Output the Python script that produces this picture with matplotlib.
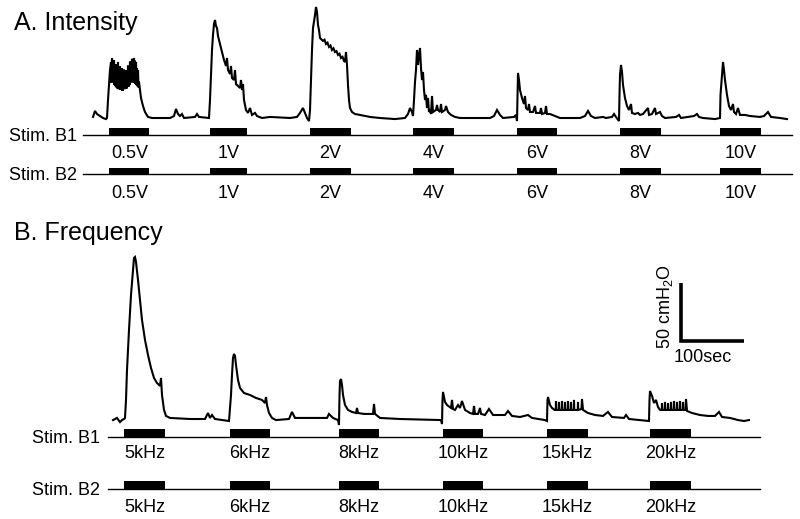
import numpy as np
import matplotlib
matplotlib.use("Agg")
import matplotlib.pyplot as plt

plt.rcParams['font.family'] = ['Liberation Sans', 'DejaVu Sans']

# bladder pressure traces: (time s, pressure cmH2O above baseline)
trace_A = [(16, 0.9), (19.2, 6.0), (22.4, 3.4), (27.2, 1.7), (32, 0), (36.8, -0.9), (38.4, 0),
           (40, 15.3), (41.6, 28.1), (43.2, 40.8), (44.8, 47.6), (45.6, 30.0), (46.4, 51), (47.2, 33.0),
           (48, 49.1), (48.8, 30.5), (49.6, 49.3), (50.4, 28.0), (51.2, 45.3), (52, 27.0), (52.8, 45.9),
           (53.6, 26.0), (54.4, 42.9), (55.2, 25.0), (56, 47.6), (56.8, 24.5), (57.6, 41.5), (58.4, 26.0),
           (59.2, 43.8), (60, 24.0), (60.8, 40.2), (61.6, 25.5), (62.4, 42.4), (63.2, 23.0), (64, 38.8),
           (64.8, 25.0), (65.6, 41.1), (66.4, 24.5), (67.2, 38.5), (68, 26.0), (68.8, 40.7), (69.6, 25.0),
           (70.4, 39.2), (71.2, 27.0), (72, 44.5), (72.8, 26.5), (73.6, 43.9), (74.4, 28.0), (75.2, 47.9),
           (76, 30.0), (76.8, 48.0), (77.6, 31.0), (78.4, 50.3), (79.2, 32.0), (80, 47.4), (80.8, 30.0),
           (81.6, 51), (82.4, 31.0), (83.2, 48.7), (84, 29.0), (84.8, 47.6), (85.6, 28.0), (86.4, 42.3),
           (87.2, 27.0), (88, 40.8), (88.8, 26.0), (89.6, 30.8), (92.8, 17), (96, 10.2), (99.2, 5.1),
           (104, 0.9), (110.4, 0), (139.2, 0), (145.6, 1.7), (148.8, 7.7), (152, 3.4), (155.2, 1.7),
           (158.4, 3.4), (161.6, 0), (179.2, 0.9), (182.4, 3.4), (185.6, 0.9), (201.6, 0),
           # 1V
           (203.2, 15.3), (204.8, 36.6), (206.4, 57.8), (208, 70.6), (209.6, 79.9), (211.2, 83.3),
           (212.8, 78.2), (214.4, 76.5), (216, 69.7), (219.2, 62.9), (222.4, 56.1), (225.6, 49.3),
           (228.8, 44.2), (230.4, 51), (232, 40.8), (235.2, 37.4), (236.8, 44.2), (238.4, 34),
           (241.6, 32.3), (243.2, 40.8), (244.8, 28.9), (248, 27.2), (251.2, 25.5), (252.8, 32.3),
           (254.4, 23.8), (256, 28.9), (257.6, 15.3), (260.8, 6.8), (264, 4.3), (267.2, 8.5),
           (270.4, 2.6), (275.2, 4.3), (278.4, 1.7), (286.4, 0), (299.2, 0.9), (331.2, 0),
           (342.4, 0.9), (347.2, 4.3), (352, 8.5), (355.2, 4.3), (358.4, 0), (361.6, -2.6),
           # 2V
           (363.2, 6.8), (364.8, 32.3), (366.4, 57.8), (368, 76.5), (371.2, 87.6), (372.8, 94.4),
           (374.4, 90.1), (376, 79), (377.6, 74.8), (379.2, 68), (384, 65.5), (386.4, 66.5),
           (388.8, 62.9), (391.2, 64.0), (393.6, 60.4), (396, 61.6), (398.4, 57.8), (400.8, 59.2),
           (403.2, 56.1), (405.6, 56.8), (408, 53.6), (410.4, 54.6), (412.8, 51), (415.2, 52.0),
           (417.6, 48.5), (419.2, 47.6), (420.8, 56.1), (422.4, 45.1), (424, 28.1), (425.6, 15.3),
           (427.2, 8.5), (430.4, 5.1), (435.2, 3.4), (443.2, 2.6), (459.2, 0.9), (475.2, 0),
           (499.2, -0.9), (515.2, 0), (520, 3.4), (523.2, 8.5), (526.4, 5.1), (528, 1.7),
           # 4V
           (529.6, 15.3), (531.2, 30.6), (532.8, 40.8), (534.4, 57.8), (536, 45.1), (537.6, 53.6),
           (539.2, 59.5), (540.8, 42.5), (542.4, 32.3), (544, 39.1), (545.6, 23.8), (547.2, 15.3),
           (548.8, 19.6), (550.4, 8.5), (552, 17), (553.6, 5.1), (555.2, 6.8), (556.8, 3.4),
           (558.4, 18.7), (560, 5.1), (564.8, 6.8), (566.4, 11.1), (568, 6.8), (571.2, 5.1),
           (572.8, 11.9), (574.4, 5.1), (579.2, 6.8), (580.8, 10.2), (584, 5.1), (588.8, 2.6),
           (595.2, 0.9), (603.2, 0), (651.2, 0), (657.6, 1.7), (662.4, 6.8), (667.2, 2.6), (672, 0),
           (689.6, 0.9), (692.8, 2.6), (694.4, -2.6),
           # 6V
           (695.2, 19.6), (696, 38.3), (697.6, 32.3), (699.2, 23.8), (702.4, 17), (705.6, 11.9),
           (707.2, 18.7), (708.8, 8.5), (712, 6.8), (713.6, 11.9), (715.2, 5.1), (720, 5.1),
           (723.2, 10.2), (724.8, 4.3), (731.2, 4.3), (732.8, 8.5), (734.4, 3.4), (739.2, 4.3),
           (740.8, 10.2), (742.4, 3.4), (747.2, 3.4), (755.2, 1.7), (763.2, 0), (795.2, 0),
           (803.2, 1.7), (808, 6.0), (812.8, 1.7), (819.2, 0), (832, 0.9), (836.8, 0), (846.4, 0.9),
           (849.6, 3.4), (852.8, 0.9), (857.6, -2.6),
           # 8V
           (858.4, 19.6), (859.2, 36.6), (860.8, 45.1), (862.4, 39.1), (864, 28.1), (867.2, 17),
           (870.4, 10.2), (873.6, 6.8), (876.8, 11.9), (878.4, 4.3), (883.2, 3.4), (888, 4.3),
           (891.2, 2.6), (896, 3.4), (904, 8.5), (905.6, 2.6), (910.4, 3.4), (915.2, 8.5),
           (916.8, 3.4), (923.2, 5.1), (926.4, 1.7), (931.2, 0), (948.8, 0.9), (953.6, 2.6),
           (956.8, 0), (977.6, 1.7), (982.4, 3.4), (985.6, 0.9), (992, 0), (1011.2, -0.9), (1019.2, 0),
           # 10V
           (1020, 19.6), (1022.4, 36.6), (1024, 47.6), (1025.6, 40.8), (1027.2, 32.3), (1030.4, 19.6),
           (1033.6, 10.2), (1036.8, 6.8), (1040, 11.9), (1041.6, 5.1), (1044.8, 3.4), (1048, 8.5),
           (1051.2, 2.6), (1059.2, 2.6), (1067.2, 1.7), (1083.2, 0.9), (1089.6, 1.7), (1096, 5.1),
           (1100.8, 0.9), (1115.2, 0), (1126.4, -0.9)]

trace_B = [(8, -0.9), (14.4, 0.9), (19.2, -2.6), (22.4, -0.9), (25.6, 0), (27.2, 0.9),
           # 5kHz
           (28.8, 16.2), (30.4, 41.7), (33.6, 75.7), (36.8, 105.4), (40, 126.7), (41.6, 136.9),
           (43.2, 137.7), (44.8, 133.5), (48, 118.2), (51.2, 101.2), (54.4, 84.2), (59.2, 67.2),
           (64, 54.4), (68.8, 43.4), (73.6, 34.9), (78.4, 30.6), (83.2, 28.1), (84.8, 34.9),
           (86.4, 20.4), (89.6, 7.7), (92.8, 2.6), (99.2, 0.9), (131.2, 0), (155.2, 0), (160, 5.1),
           (163.2, 0.9), (166.4, 3.4), (171.2, 0), (193.6, -1.7),
           # 6kHz
           (196.8, 20.4), (198.4, 37.4), (200, 51.9), (201.6, 55.3), (203.2, 53.6), (204.8, 45.9),
           (208, 33.2), (211.2, 26.4), (217.6, 22.1), (227.2, 20.4), (236.8, 17.9), (246.4, 16.2),
           (251.2, 13.6), (252.8, 18.7), (254.4, 11.9), (257.6, 5.1), (262.4, 0.9), (268.8, -0.9),
           (289.6, 0), (294.4, 6.0), (299.2, 0.9), (307.2, 0.9), (350.4, 0.9), (353.6, 4.3),
           (360, 0.9), (368, -0.9), (369.6, -5.1),
           # 8kHz
           (370.4, 19.6), (371.2, 32.3), (372.8, 34), (374.4, 28.9), (376, 20.4), (379.2, 11.9),
           (384, 7.7), (390.4, 6.0), (396.8, 5.1), (398.4, 9.4), (400, 5.1), (409.6, 4.3), (424, 4.3),
           (425.6, 12.8), (427.2, 4.3), (435.2, 0.9), (467.2, 0), (532.8, -0.9), (534.4, -4.3),
           # 10kHz
           (535.2, 16.2), (536, 23), (539.2, 14.5), (542.4, 11.9), (548.8, 9.4), (550.4, 16.2),
           (552, 8.5), (555.2, 7.7), (560, 11.9), (563.2, 9.4), (566.4, 15.3), (571.2, 7.7),
           (579.2, 5.1), (584, 4.3), (585.6, 11.1), (587.2, 4.3), (592, 4.3), (595.2, 9.4),
           (596.8, 4.3), (603.2, 3.4), (609.6, 8.5), (616, 3.4), (627.2, 3.4), (635.2, 3.4),
           (640, 6.8), (646.4, 2.6), (659.2, 1.7), (672, 3.4), (678.4, 0.9), (699.2, -0.9),
           (702.4, -1.7),
           # 15kHz
           (703.2, 16.2), (704, 18.7), (707.2, 11.9), (710.4, 9.4), (714.4, 7.7),
           (716.4, 7.7), (716.8, 15.3), (717.2, 7.7), (721.2, 7.7), (721.6, 14.5), (722, 7.7),
           (726, 7.7), (726.4, 15.3), (726.8, 7.7), (730.8, 7.7), (731.2, 14.5), (731.6, 7.7),
           (735.6, 7.7), (736, 15.3), (736.4, 7.7), (740.4, 7.7), (740.8, 14.5), (741.2, 7.7),
           (745.2, 7.7), (745.6, 16.2), (746, 7.7), (751.6, 7.7), (752, 14.5), (752.4, 7.7),
           (757.6, 8.5), (758.4, 17), (760, 7.7), (768, 5.1),
           (779.2, 3.4), (792, 2.6), (800, 6.0), (806.4, 1.7), (825.6, 0.9), (828.8, 3.4),
           (833.6, 0), (851.2, -0.9), (865.6, -1.7),
           # 20kHz
           (866.4, 16.2), (867.2, 23.8), (870.4, 19.6), (873.6, 13.6), (876.8, 16.2), (880, 10.2),
           (883.2, 7.7), (886, 7.7), (886.4, 13.6), (886.8, 7.7), (890.8, 7.7), (891.2, 14.5),
           (891.6, 7.7), (895.6, 7.7), (896, 13.6), (896.4, 7.7), (900.4, 7.7), (900.8, 14.5),
           (901.2, 7.7), (905.2, 7.7), (905.6, 15.3), (906, 7.7), (910, 7.7), (910.4, 14.5),
           (910.8, 7.7), (914.8, 7.7), (915.2, 15.3), (915.6, 7.7), (919.6, 7.7), (920, 14.5),
           (920.4, 7.7), (924, 7.7), (924.8, 17), (926.4, 6.8), (934.4, 5.1), (947.2, 3.4),
           (960, 2.6), (971.2, 2.6), (977.6, 6.0), (982.4, 1.7), (995.2, 0.9), (1008, -0.9),
           (1017.6, -1.7), (1025.6, -0.9)]

# stimulation periods (onset s, duration s)
stimA_on = [42, 203, 363, 528, 694, 859, 1019]
stimA_dur = [64, 59, 66, 66, 64, 66, 66]
stimA_lab = ['0.5V', '1V', '2V', '4V', '6V', '8V', '10V']

stimB_on = [26, 195, 370, 536, 702, 867]
stimB_dur = [65, 64, 64, 64, 66, 66]
stimB_lab = ['5kHz', '6kHz', '8kHz', '10kHz', '15kHz', '20kHz']

SEC_PER_PX = 1.6     # 100 s scale bar ~ 62 px
CM_PER_PX = 0.85     # 50 cmH2O scale bar ~ 59 px

W, H = 800, 519
fig = plt.figure(figsize=(W / 100, H / 100), dpi=100)


def box(x0, y0, x1, y1):
    return [x0 / W, 1 - y1 / H, (x1 - x0) / W, (y1 - y0) / H]


def trace_axes(x0, x1, ytop, ybase, ybot):
    ax = fig.add_axes(box(x0, ytop, x1, ybot))
    ax.set_xlim(0, (x1 - x0) * SEC_PER_PX)
    ax.set_ylim((ybase - ybot) * CM_PER_PX, (ybase - ytop) * CM_PER_PX)
    ax.axis('off')
    return ax


def stim_row(x0, x1, ybar, yline, onsets, durs, labels, row_name, lab_drop, name_gap):
    ax = fig.add_axes(box(x0, ybar, x1, yline))
    ax.set_xlim(0, (x1 - x0) * SEC_PER_PX)
    ax.set_ylim(0, 1)
    ax.axis('off')
    ax.bar(onsets, 1, width=durs, align='edge', color='black', linewidth=0)
    ax.axhline(0, color='black', lw=1.0, clip_on=False)
    for on, d, lab in zip(onsets, durs, labels):
        ax.annotate(lab, (on + d / 2, 0), xytext=(0, -lab_drop * 0.72), textcoords='offset points',
                    ha='center', va='baseline', fontsize=13)
    ax.annotate(row_name, (0, 0), xycoords='axes fraction', xytext=(-name_gap * 0.72, -6 * 0.72),
                textcoords='offset points', ha='right', va='baseline', fontsize=13)
    return ax


# ---- A. Intensity
axA = trace_axes(83, 792, 0, 118, 125)
tA, pA = zip(*trace_A)
axA.plot(tA, pA, color='black', lw=1.5, solid_joinstyle='miter')
stim_row(83, 792, 128, 135, stimA_on, stimA_dur, stimA_lab, 'Stim. B1', 23, 6)
stim_row(83, 792, 168, 174, stimA_on, stimA_dur, stimA_lab, 'Stim. B2', 24, 6)

# ---- B. Frequency
axB = trace_axes(108, 760, 245, 419, 426)
tB, pB = zip(*trace_B)
axB.plot(tB, pB, color='black', lw=1.5, solid_joinstyle='miter')
stim_row(108, 760, 429, 437, stimB_on, stimB_dur, stimB_lab, 'Stim. B1', 21, 8)
stim_row(108, 760, 481, 489, stimB_on, stimB_dur, stimB_lab, 'Stim. B2', 23, 8)

# scale bar: 50 cmH2O / 100 sec
sx, sy = 917, 66
axB.plot([sx, sx, sx + 100], [sy + 50, sy, sy], color='black', lw=2.6,
         solid_joinstyle='miter', solid_capstyle='butt', clip_on=False)
fig.text(665 / W, 1 - 307 / H, '50 cmH$_\\mathregular{2}$O', rotation=90,
         ha='center', va='center', fontsize=13)
fig.text(703 / W, 1 - 358 / H, '100sec', ha='center', va='center', fontsize=13)

fig.text(14 / W, 1 - 30 / H, 'A. Intensity', ha='left', va='baseline', fontsize=18)
fig.text(14 / W, 1 - 240 / H, 'B. Frequency', ha='left', va='baseline', fontsize=18)

fig.savefig('out.png', dpi=100)
